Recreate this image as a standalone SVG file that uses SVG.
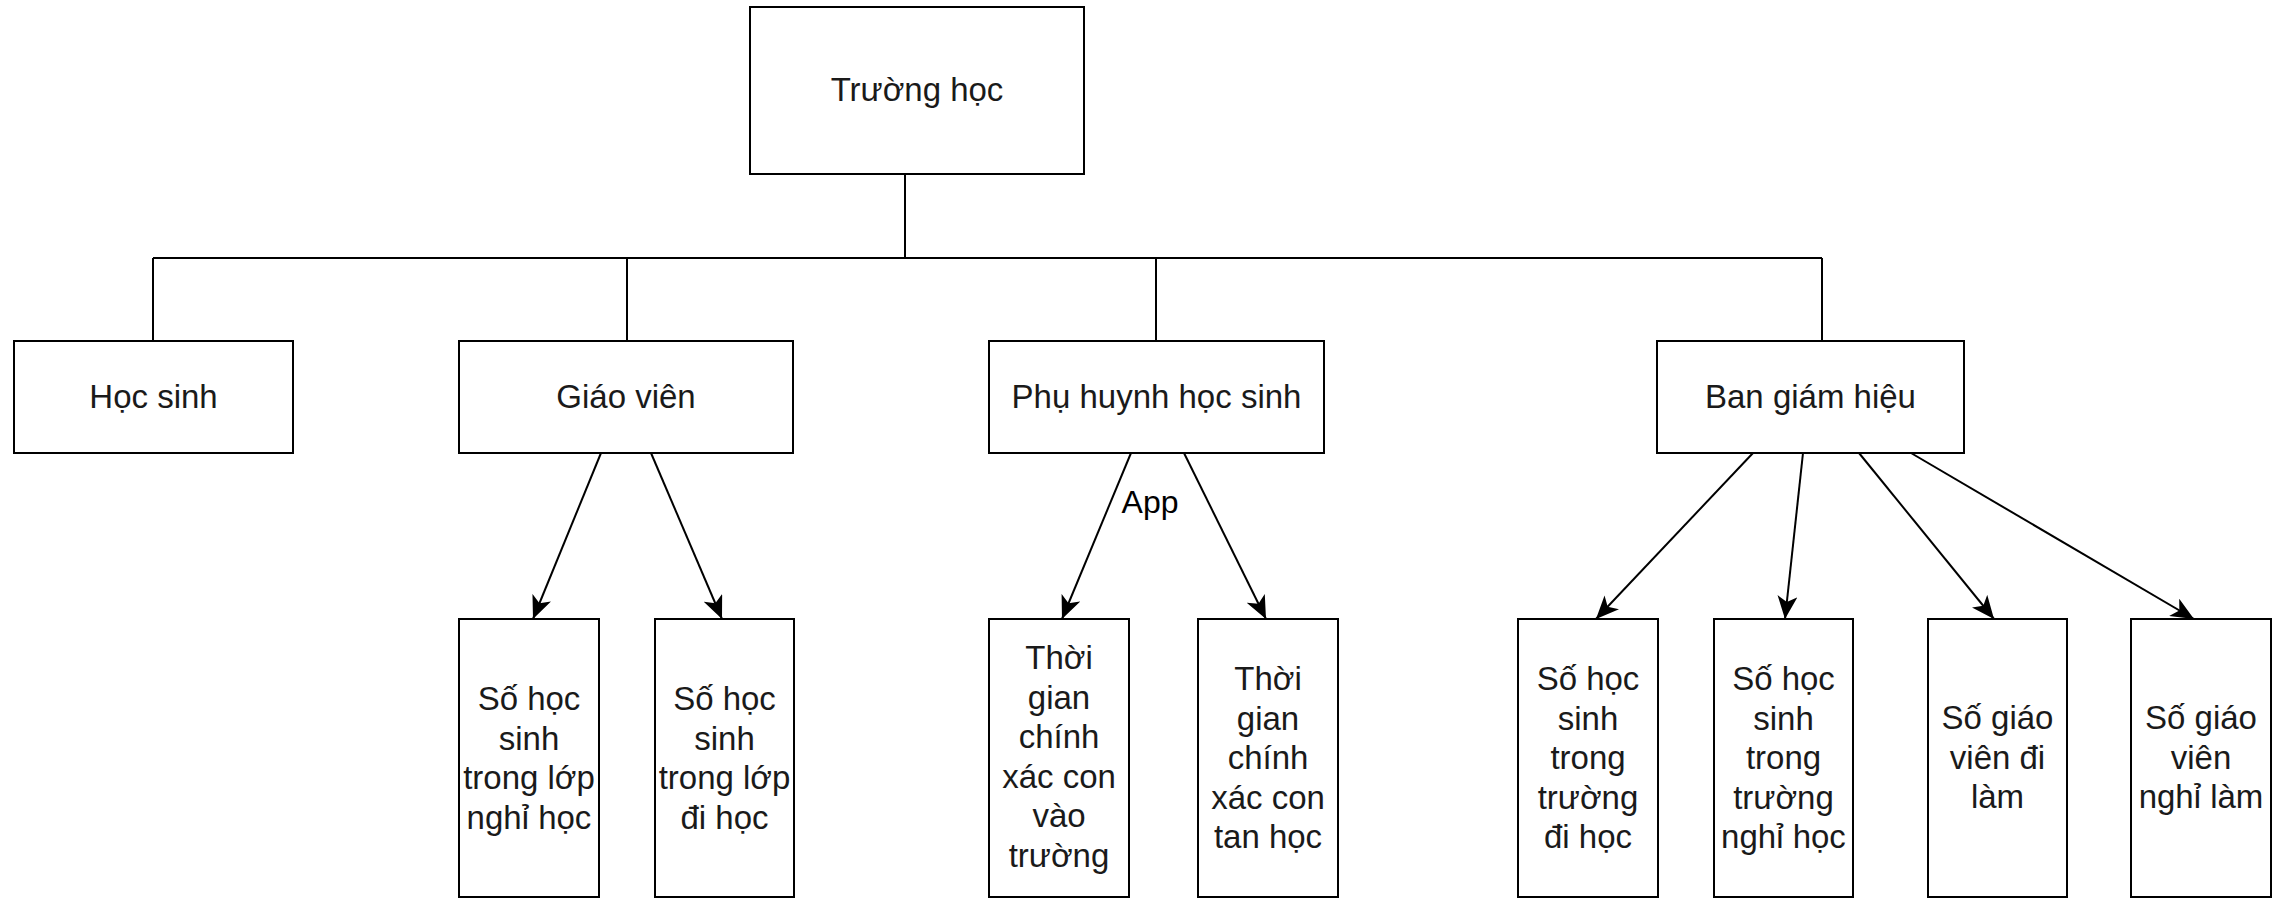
<svg xmlns="http://www.w3.org/2000/svg" width="2283" height="899" viewBox="0 0 2283 899">
<style>
.box{fill:#fff;stroke:#000;stroke-width:2}
.t{font-family:"Liberation Sans",Arial,sans-serif;font-size:33px;fill:#1a1a1a;text-anchor:middle}
.ln{fill:none;stroke:#000;stroke-width:2}
.ar{fill:none;stroke:#000;stroke-width:2;marker-end:url(#arr)}
</style>
<defs>
<marker id="arr" markerUnits="userSpaceOnUse" markerWidth="24" markerHeight="20" refX="23" refY="10" orient="auto">
<path d="M23,10 L0,0 L6,10 L0,20 Z" fill="#000"/>
</marker>
</defs>
<rect width="2283" height="899" fill="#fff"/>
<g id="connectors">
<path class="ln" d="M905,174 V258 M153,258 H1822 M153,258 V341 M627,258 V341 M1156,258 V341 M1822,258 V341"/>
<line class="ar" x1="601" y1="453" x2="533" y2="619"/>
<line class="ar" x1="651" y1="453" x2="722" y2="619"/>
<line class="ar" x1="1131" y1="453" x2="1062" y2="619"/>
<line class="ar" x1="1184" y1="453" x2="1266" y2="619"/>
<line class="ar" x1="1753" y1="453" x2="1596" y2="619"/>
<line class="ar" x1="1803" y1="453" x2="1785" y2="619"/>
<line class="ar" x1="1859" y1="453" x2="1994" y2="619"/>
<line class="ar" x1="1911" y1="453" x2="2194" y2="619"/>
<text x="1150" y="513" font-family="Liberation Sans, Arial, sans-serif" font-size="32" fill="#000" text-anchor="middle">App</text>
</g>
<g id="truong-hoc"><rect class="box" x="750" y="7" width="334" height="167"/><text class="t" x="917" y="101">Trường học</text></g>
<g id="hoc-sinh"><rect class="box" x="14" y="341" width="279" height="112"/><text class="t" x="153.5" y="408">Học sinh</text></g>
<g id="giao-vien"><rect class="box" x="459" y="341" width="334" height="112"/><text class="t" x="626" y="408">Giáo viên</text></g>
<g id="phu-huynh"><rect class="box" x="989" y="341" width="335" height="112"/><text class="t" x="1156.5" y="408">Phụ huynh học sinh</text></g>
<g id="ban-giam-hieu"><rect class="box" x="1657" y="341" width="307" height="112"/><text class="t" x="1810.5" y="408">Ban giám hiệu</text></g>
<g id="c1"><rect class="box" x="459" y="619" width="140" height="278"/><text class="t" x="529" y="710"><tspan x="529">Số học</tspan><tspan x="529" dy="39.5">sinh</tspan><tspan x="529" dy="39.5">trong lớp</tspan><tspan x="529" dy="39.5">nghỉ học</tspan></text></g>
<g id="c2"><rect class="box" x="655" y="619" width="139" height="278"/><text class="t" x="724.5" y="710"><tspan x="724.5">Số học</tspan><tspan x="724.5" dy="39.5">sinh</tspan><tspan x="724.5" dy="39.5">trong lớp</tspan><tspan x="724.5" dy="39.5">đi học</tspan></text></g>
<g id="c3"><rect class="box" x="989" y="619" width="140" height="278"/><text class="t" x="1059" y="669"><tspan x="1059">Thời</tspan><tspan x="1059" dy="39.5">gian</tspan><tspan x="1059" dy="39.5">chính</tspan><tspan x="1059" dy="39.5">xác con</tspan><tspan x="1059" dy="39.5">vào</tspan><tspan x="1059" dy="39.5">trường</tspan></text></g>
<g id="c4"><rect class="box" x="1198" y="619" width="140" height="278"/><text class="t" x="1268" y="690"><tspan x="1268">Thời</tspan><tspan x="1268" dy="39.5">gian</tspan><tspan x="1268" dy="39.5">chính</tspan><tspan x="1268" dy="39.5">xác con</tspan><tspan x="1268" dy="39.5">tan học</tspan></text></g>
<g id="c5"><rect class="box" x="1518" y="619" width="140" height="278"/><text class="t" x="1588" y="690"><tspan x="1588">Số học</tspan><tspan x="1588" dy="39.5">sinh</tspan><tspan x="1588" dy="39.5">trong</tspan><tspan x="1588" dy="39.5">trường</tspan><tspan x="1588" dy="39.5">đi học</tspan></text></g>
<g id="c6"><rect class="box" x="1714" y="619" width="139" height="278"/><text class="t" x="1783.5" y="690"><tspan x="1783.5">Số học</tspan><tspan x="1783.5" dy="39.5">sinh</tspan><tspan x="1783.5" dy="39.5">trong</tspan><tspan x="1783.5" dy="39.5">trường</tspan><tspan x="1783.5" dy="39.5">nghỉ học</tspan></text></g>
<g id="c7"><rect class="box" x="1928" y="619" width="139" height="278"/><text class="t" x="1997.5" y="729"><tspan x="1997.5">Số giáo</tspan><tspan x="1997.5" dy="39.5">viên đi</tspan><tspan x="1997.5" dy="39.5">làm</tspan></text></g>
<g id="c8"><rect class="box" x="2131" y="619" width="140" height="278"/><text class="t" x="2201" y="729"><tspan x="2201">Số giáo</tspan><tspan x="2201" dy="39.5">viên</tspan><tspan x="2201" dy="39.5">nghỉ làm</tspan></text></g>
</svg>
